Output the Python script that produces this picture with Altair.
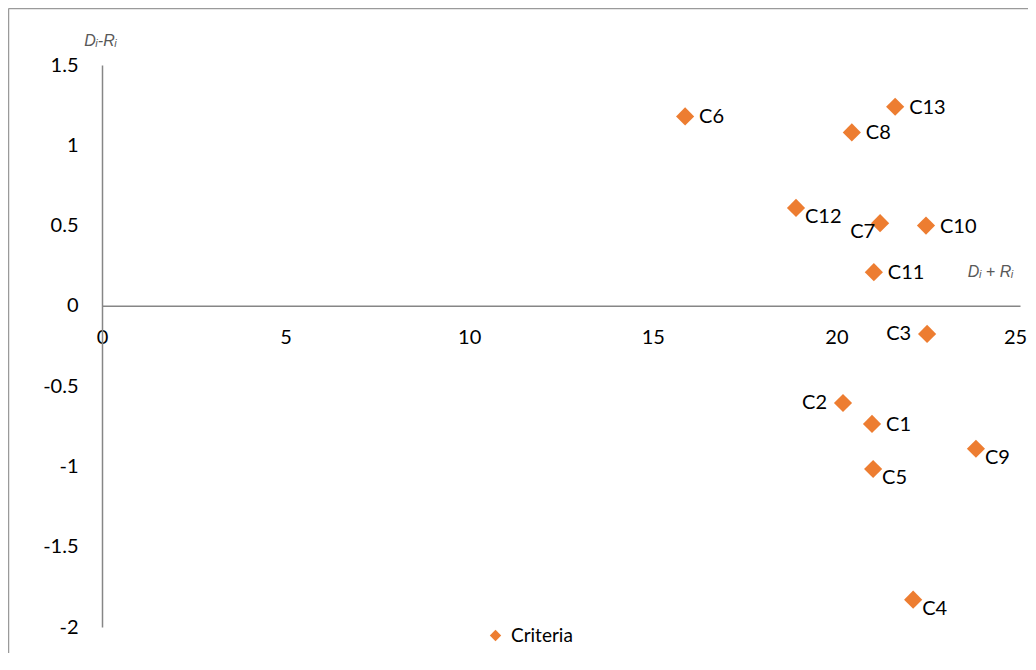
import altair as alt
import pandas as pd

labels = ["C1", "C2", "C3", "C4", "C5", "C6", "C7", "C8", "C9", "C10", "C11", "C12", "C13"]
d_plus_r = [20.97, 20.18, 22.47, 22.09, 21.00, 15.88, 21.19, 20.42, 23.80, 22.44, 21.02, 18.90, 21.60]
d_minus_r = [-0.735, -0.605, -0.175, -1.83, -1.016, 1.18, 0.515, 1.08, -0.89, 0.50, 0.21, 0.61, 1.24]
series_name = "Criteria"
x_ticks = [0, 5, 10, 15, 20, 25]
y_ticks = [-2, -1.5, -1, -0.5, 0, 0.5, 1, 1.5]

df = pd.DataFrame({"label": labels, "x": d_plus_r, "y": d_minus_r, "series": series_name})

W, H = 918, 562
FONT = "Lato"
AXIS_COLOR = "#868686"
ORANGE = "#ED7D31"

xs = alt.Scale(domain=[0, 25], nice=False, zero=False)
ys = alt.Scale(domain=[-2, 1.5], nice=False, zero=False)

base = alt.Chart(df).encode(
    x=alt.X("x:Q", scale=xs, axis=alt.Axis(
        orient="bottom", values=x_ticks, offset=-H * 2 / 3.5, ticks=False, grid=False,
        domainColor=AXIS_COLOR, domainWidth=1.5, labelFont=FONT, labelFontSize=20,
        labelColor="#000000", labelPadding=22, labelFlush=False, labelBound=False,
        labelOffset={"condition": {"test": "datum.value == 25", "value": -5}, "value": 0},
        labelExpr="datum.value + ''",
        title="Dᵢ + Rᵢ", titleX=888, titleY=-34, titleAlign="center", titleBaseline="middle",
        titleFont="Liberation Sans", titleFontStyle="italic", titleFontWeight="normal",
        titleFontSize=16, titleColor="#595959")),
    y=alt.Y("y:Q", scale=ys, axis=alt.Axis(
        orient="left", values=y_ticks, ticks=False, grid=False,
        domainColor=AXIS_COLOR, domainWidth=1.5, labelFont=FONT, labelFontSize=20,
        labelColor="#000000", labelPadding=24, labelFlush=False, labelBound=False,
        labelExpr="datum.value + ''",
        title="Dᵢ-Rᵢ", titleAngle=0, titleX=-2, titleY=-25, titleAlign="center",
        titleBaseline="middle", titleFont="Liberation Sans", titleFontStyle="italic",
        titleFontWeight="normal", titleFontSize=16, titleColor="#595959")),
)

points = base.mark_point(shape="diamond", filled=True, size=330, opacity=1).encode(
    color=alt.Color("series:N", title=None, scale=alt.Scale(range=[ORANGE]),
                    legend=alt.Legend(orient="none", legendX=384, legendY=561, padding=0,
                                      symbolType="diamond", symbolSize=130, symbolFillColor=ORANGE,
                                      symbolStrokeWidth=0, labelFont=FONT, labelFontSize=19,
                                      labelColor="#000000", labelOffset=6))
)


def label_layer(names, align, dx, dy):
    return base.transform_filter(
        alt.FieldOneOfPredicate(field="label", oneOf=names)
    ).mark_text(align=align, baseline="middle", dx=dx, dy=dy, font=FONT, fontSize=20,
                color="#000000").encode(text="label:N")


lab_right = label_layer(["C6", "C13", "C8", "C10", "C11", "C1"], "left", 14, 1)
lab_right_low = label_layer(["C12", "C9", "C5", "C4"], "left", 9, 9)
lab_left = label_layer(["C3", "C2"], "right", -16, 0)
lab_left_low = label_layer(["C7"], "right", -5, 9)

frame_df = pd.DataFrame({"k": [0]})
top_border = alt.Chart(frame_df).mark_rule(color="#9A9A9A", strokeWidth=1.5).encode(
    x=alt.value(-93.5), x2=alt.value(W + 8), y=alt.value(-56.5))
left_border = alt.Chart(frame_df).mark_rule(color="#9A9A9A", strokeWidth=1.5).encode(
    x=alt.value(-93.5), y=alt.value(-56.5), y2=alt.value(H + 30))

chart = alt.layer(
    top_border, left_border, points, lab_right, lab_right_low, lab_left, lab_left_low
).properties(
    width=W, height=H,
    background="#ffffff",
    autosize=alt.AutoSizeParams(type="none"),
    padding={"left": 94, "top": 57, "right": 8, "bottom": 26},
).configure_view(strokeWidth=0, stroke="transparent")

chart.save("out.html", embed_options={"renderer": "svg", "actions": False})
